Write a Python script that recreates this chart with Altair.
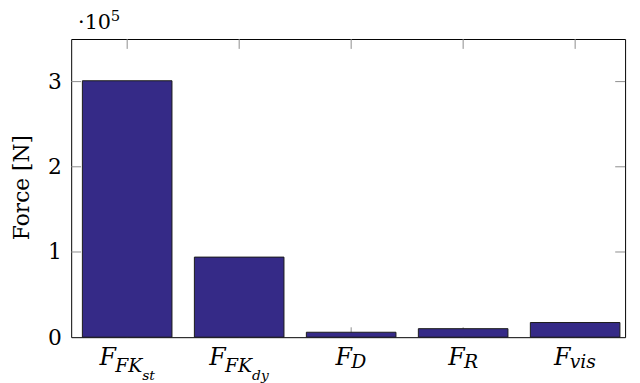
import altair as alt
import pandas as pd

# ---- data ----
forces = [301000, 94000, 5800, 10000, 17200]          # N
main_sym = ["F", "F", "F", "F", "F"]
sub_sym = ["FK", "FK", "D", "R", "vis"]
subsub_sym = ["st", "dy", "", "", ""]
y_tick_values = [0, 100000, 200000, 300000]

# ---- layout / style ----
W, H = 561, 302
FONT = "DejaVu Serif"
MAIN, SUB, SUBSUB = 24, 19, 14
BAR_HALF = 0.4
TICK = 10
TICK_COLOR = "#8c8c8c"
CW = {"F": 0.669, "K": 0.768, "D": 0.834, "R": 0.744, "s": 0.511, "t": 0.401,
      "d": 0.641, "y": 0.591, "v": 0.591, "i": 0.320}


def tw(s, size):
    return sum(CW[c] for c in s) * size


xscale = alt.Scale(domain=[-0.5, 4.446], nice=False, zero=False)
yscale = alt.Scale(domain=[0, 350000], nice=False, zero=False)

idx = list(range(len(forces)))
bars_df = pd.DataFrame({
    "i": idx,
    "lo": [i - BAR_HALF for i in idx],
    "hi": [i + BAR_HALF for i in idx],
    "force": forces,
    "base": [0] * len(forces),
})

yaxis = alt.Axis(
    values=y_tick_values, labelExpr="datum.value / 100000",
    labelFont=FONT, labelFontSize=22, labelColor="black", labelPadding=10,
    ticks=False, tickSize=0, domain=False, grid=False,
    title="Force [N]", titleFont=FONT, titleFontSize=22, titleFontWeight="normal",
    titleColor="black", titleX=-43.5, titleY=150, titleAngle=270,
    titleBaseline="alphabetic", titleAlign="center",
)

# inward ticks (drawn behind bars)
ydf = pd.DataFrame({"v": y_tick_values[1:]})
xdf = pd.DataFrame({"i": idx})
left_ticks = alt.Chart(ydf).mark_rule(color=TICK_COLOR, strokeWidth=1).encode(
    y=alt.Y("v:Q", scale=yscale, axis=yaxis, title="Force [N]"), x=alt.value(0), x2=alt.value(TICK))
right_ticks = alt.Chart(ydf).mark_rule(color=TICK_COLOR, strokeWidth=1).encode(
    y=alt.Y("v:Q", scale=yscale, axis=yaxis, title="Force [N]"), x=alt.value(W - TICK), x2=alt.value(W))
bottom_ticks = alt.Chart(xdf).mark_rule(color=TICK_COLOR, strokeWidth=1).encode(
    x=alt.X("i:Q", scale=xscale, axis=None), y=alt.value(H - TICK), y2=alt.value(H))
top_ticks = alt.Chart(xdf).mark_rule(color=TICK_COLOR, strokeWidth=1).encode(
    x=alt.X("i:Q", scale=xscale, axis=None), y=alt.value(0), y2=alt.value(TICK))

bars = alt.Chart(bars_df).mark_bar(fill="#352A87", stroke="#1a1a1a", strokeWidth=1).encode(
    x=alt.X("lo:Q", scale=xscale, axis=None), x2="hi:Q",
    y=alt.Y("force:Q", scale=yscale, axis=yaxis, title="Force [N]"), y2="base:Q")

layers = [left_ticks, right_ticks, bottom_ticks, top_ticks, bars]

# x tick labels built from main symbol + subscript + sub-subscript
for i in idx:
    parts = [(main_sym[i], MAIN, 27.7)]
    if subsub_sym[i]:
        parts.append((sub_sym[i], SUB, 35))
        parts.append((subsub_sym[i], SUBSUB, 43))
    else:
        parts.append((sub_sym[i], SUB, 31))
    total = sum(tw(t, s) for t, s, _ in parts)
    off = -total / 2
    for t, s, dyv in parts:
        layers.append(
            alt.Chart(pd.DataFrame({"i": [i], "t": [t]})).mark_text(
                align="left", baseline="alphabetic", font=FONT, fontSize=s,
                fontStyle="italic", color="black", dx=off, dy=dyv,
            ).encode(x=alt.X("i:Q", scale=xscale, axis=None), y=alt.value(H), text="t:N")
        )
        off += tw(t, s)

# exponent annotation  ·10^5
exp_base = alt.Chart(pd.DataFrame({"t": ["\u00b710"]})).mark_text(
    align="left", baseline="alphabetic", font=FONT, fontSize=21, color="black"
).encode(x=alt.value(7), y=alt.value(-10), text="t:N")
exp_sup = alt.Chart(pd.DataFrame({"t": ["5"]})).mark_text(
    align="left", baseline="alphabetic", font=FONT, fontSize=15, color="black"
).encode(x=alt.value(40), y=alt.value(-18), text="t:N")
layers += [exp_base, exp_sup]

chart = alt.layer(*layers).properties(
    width=W, height=H,
    padding={"left": 64, "top": 29, "right": 7, "bottom": 44},
    autosize=alt.AutoSizeParams(type="none"),
).configure_view(stroke="black", strokeWidth=1)

chart.save("out.html", embed_options={"renderer": "svg", "actions": False})
